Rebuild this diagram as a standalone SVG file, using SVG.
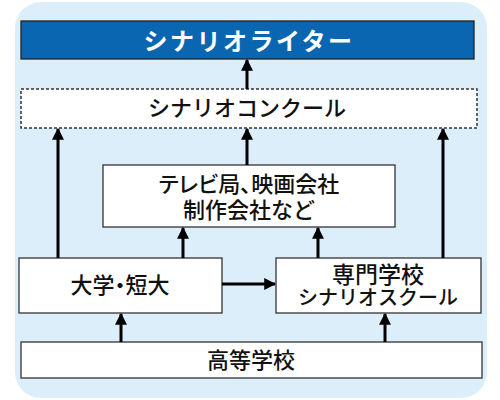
<svg xmlns="http://www.w3.org/2000/svg" width="500" height="400" viewBox="0 0 500 400">
<style>
.box{fill:#fff;stroke:#333;stroke-width:1.3}
.t{font-family:"Noto Sans CJK JP","Noto Sans",sans-serif;font-size:22px;font-weight:500;fill:#111;text-anchor:middle}
.p{font-feature-settings:"palt"}
.c{stroke:#000;stroke-width:3;fill:none}
</style>
<defs>
<marker id="ah" viewBox="0 0 10 10" refX="9" refY="5" markerWidth="4" markerHeight="4" orient="auto" markerUnits="strokeWidth">
<path d="M0,0 L10,5 L0,10 z" fill="#000"/>
</marker>
</defs>
<rect x="15" y="2" width="472" height="396" rx="26" fill="#DDEEFB"/>
<g id="writer">
<rect x="21" y="21" width="453" height="38" fill="#0B66B1" stroke="#222" stroke-width="1.3"/>
<text x="249" y="50" class="t" style="fill:#fff;font-weight:bold;font-size:24px;letter-spacing:2.5px">シナリオライター</text>
</g>
<g id="contest">
<rect x="21" y="89" width="456" height="39" fill="#fff" stroke="#333" stroke-width="1.5" stroke-dasharray="3,2"/>
<text x="247" y="116" class="t">シナリオコンクール</text>
</g>
<g id="tv">
<rect x="103" y="165" width="292" height="62" class="box"/>
<text x="249" y="192" class="t p">テレビ局、映画会社</text>
<text x="249" y="218" class="t">制作会社など</text>
</g>
<g id="univ">
<rect x="19" y="258" width="203" height="55" class="box"/>
<text x="120" y="293" class="t p">大学・短大</text>
</g>
<g id="senmon">
<rect x="276" y="258" width="205" height="55" class="box"/>
<text x="378" y="283" class="t" style="font-size:23px">専門学校</text>
<text x="378" y="305" class="t" style="font-size:20px">シナリオスクール</text>
</g>
<g id="high">
<rect x="21" y="342" width="461" height="36" class="box"/>
<text x="251" y="368" class="t">高等学校</text>
</g>
<g id="connectors">
<line x1="247" y1="89" x2="247" y2="60" class="c" marker-end="url(#ah)"/>
<line x1="247" y1="165" x2="247" y2="129" class="c" marker-end="url(#ah)"/>
<line x1="58" y1="258" x2="58" y2="129" class="c" marker-end="url(#ah)"/>
<line x1="443" y1="258" x2="443" y2="129" class="c" marker-end="url(#ah)"/>
<line x1="183" y1="258" x2="183" y2="228" class="c" marker-end="url(#ah)"/>
<line x1="318" y1="258" x2="318" y2="228" class="c" marker-end="url(#ah)"/>
<line x1="222" y1="284" x2="275" y2="284" class="c" marker-end="url(#ah)"/>
<line x1="121" y1="342" x2="121" y2="314" class="c" marker-end="url(#ah)"/>
<line x1="385" y1="342" x2="385" y2="314" class="c" marker-end="url(#ah)"/>
</g>
</svg>
